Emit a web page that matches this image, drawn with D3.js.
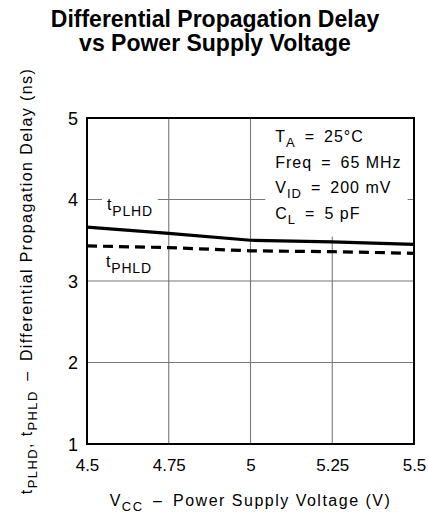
<!DOCTYPE html>
<html>
<head>
<meta charset="utf-8">
<script src="https://cdn.jsdelivr.net/npm/d3@7"></script>
<style>
  body { margin: 0; background: #fff; }
  text { font-family: "Liberation Sans", Arial, sans-serif; fill: #000; }
</style>
</head>
<body>
<script>
// values
var vcc = [4.5, 4.75, 5, 5.25, 5.5];
var tPLHD = [3.66, 3.585, 3.50, 3.48, 3.45];
var tPHLD = [3.43, 3.41, 3.37, 3.36, 3.34];
var xTicks = [4.5, 4.75, 5, 5.25, 5.5];
var xTickLabels = ["4.5", "4.75", "5", "5.25", "5.5"];
var yTicks = [1, 2, 3, 4, 5];
var conditions = [
  ["T", "A", "\u2002=\u200225°C"],
  ["Freq\u2002=\u200265 MHz", "", ""],
  ["V", "ID", "\u2002=\u2002200 mV"],
  ["C", "L", "\u2002=\u20025 pF"]
];

var W = 428, H = 519;
var margin = {top: 118, right: 14, bottom: 75, left: 87};
var width = W - margin.left - margin.right,
    height = H - margin.top - margin.bottom;

var svg = d3.select("body").append("svg")
  .attr("width", W)
  .attr("height", H);

// title
var title = svg.append("text")
  .attr("text-anchor", "middle")
  .attr("font-weight", "bold")
  .attr("font-size", "23px");
title.append("tspan").attr("x", 215).attr("y", 27).text("Differential Propagation Delay");
title.append("tspan").attr("x", 215).attr("y", 51).text("vs Power Supply Voltage");

var g = svg.append("g")
  .attr("transform", "translate(" + margin.left + "," + margin.top + ")");

var x = d3.scaleLinear().domain([4.5, 5.5]).range([0, width]);
var y = d3.scaleLinear().domain([1, 5]).range([height, 0]);

// grid
g.selectAll(".vgrid")
  .data(xTicks.slice(1, -1))
  .enter().append("line")
    .attr("x1", function(d){ return x(d); })
    .attr("x2", function(d){ return x(d); })
    .attr("y1", 0).attr("y2", height)
    .attr("stroke", "#777").attr("stroke-width", 1.1);

g.selectAll(".hgrid")
  .data(yTicks.slice(1, -1))
  .enter().append("line")
    .attr("x1", 0).attr("x2", width)
    .attr("y1", function(d){ return y(d); })
    .attr("y2", function(d){ return y(d); })
    .attr("stroke", "#777").attr("stroke-width", 1.1);

// axes (labels only)
var xAxis = d3.axisBottom(x)
  .tickValues(xTicks)
  .tickFormat(function(d, i){ return xTickLabels[i]; })
  .tickSize(0)
  .tickPadding(15);
var yAxis = d3.axisLeft(y)
  .tickValues(yTicks)
  .tickFormat(d3.format("d"))
  .tickSize(0)
  .tickPadding(9);

var gx = g.append("g").attr("transform", "translate(0," + height + ")").call(xAxis);
var gy = g.append("g").call(yAxis);
[gx, gy].forEach(function(a){
  a.select(".domain").remove();
  a.selectAll("text")
    .attr("font-family", "Liberation Sans, Arial, sans-serif")
    .attr("font-size", "17px")
    .attr("fill", "#000");
});
gy.selectAll("text").attr("dy", "0.36em").attr("font-size", "18px");

// condition box (white background hides grid behind it)
var legend = g.append("g");
var legText = legend.append("text").attr("font-size", "16px").attr("letter-spacing", "1px");
conditions.forEach(function(c, i){
  legText.append("tspan").attr("x", x(5.25) - 57).attr("y", 24 + i * 25.5).text(c[0]);
  if (c[1]) {
    legText.append("tspan").attr("dy", 5).attr("font-size", "13px").text(c[1]);
    legText.append("tspan").attr("dy", -5).text(c[2]);
  }
});
var bb = legText.node().getBBox();
legend.insert("rect", "text")
  .attr("x", bb.x - 10).attr("y", 0)
  .attr("width", bb.width + 16).attr("height", bb.y + bb.height + 10)
  .attr("fill", "#fff");

// curves
var line = d3.line()
  .x(function(d){ return x(d[0]); })
  .y(function(d){ return y(d[1]); });

g.append("path")
  .datum(vcc.map(function(v, i){ return [v, tPLHD[i]]; }))
  .attr("d", line)
  .attr("fill", "none").attr("stroke", "#000").attr("stroke-width", 3.2);

g.append("path")
  .datum(vcc.map(function(v, i){ return [v, tPHLD[i]]; }))
  .attr("d", line)
  .attr("fill", "none").attr("stroke", "#000").attr("stroke-width", 3.2)
  .attr("stroke-dasharray", "10,6");

// curve labels
function curveLabel(sub, px, py) {
  var lg = g.append("g");
  var t = lg.append("text").attr("font-size", "16px").attr("letter-spacing", "0.8px");
  t.append("tspan").attr("x", px).attr("y", py).text("t");
  t.append("tspan").attr("dy", 6).attr("font-size", "14px").text(sub);
  var b = t.node().getBBox();
  lg.insert("rect", "text")
    .attr("x", b.x - 5).attr("y", b.y - 2)
    .attr("width", b.width + 10).attr("height", b.height + 4)
    .attr("fill", "#fff");
}
curveLabel("PLHD", 20, 92);
curveLabel("PHLD", 19, 149);

// frame
g.append("rect")
  .attr("width", width).attr("height", height)
  .attr("fill", "none").attr("stroke", "#000").attr("stroke-width", 2);

// axis titles
var xl = svg.append("text")
  .attr("text-anchor", "middle")
  .attr("font-size", "16px")
  .attr("letter-spacing", "1.5px")
  .attr("x", margin.left + width / 2)
  .attr("y", 506);
xl.append("tspan").text("V");
xl.append("tspan").attr("dy", 5).attr("font-size", "13px").text("CC");
xl.append("tspan").attr("dy", -5).text("\u2002\u2013\u2002Power Supply Voltage (V)");

var yl = svg.append("text")
  .attr("text-anchor", "middle")
  .attr("font-size", "16px")
  .attr("letter-spacing", "1.4px")
  .attr("transform", "translate(32," + 281 + ") rotate(-90)");
yl.append("tspan").text("t");
yl.append("tspan").attr("dy", 5).attr("font-size", "13px").text("PLHD");
yl.append("tspan").attr("dy", -5).text(", t");
yl.append("tspan").attr("dy", 5).attr("font-size", "13px").text("PHLD");
yl.append("tspan").attr("dy", -5).text("\u2002\u2013\u2002Differential Propagation Delay (ns)");
</script>
</body>
</html>
